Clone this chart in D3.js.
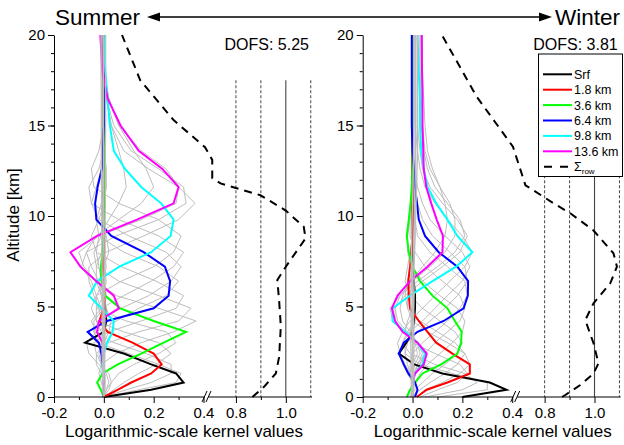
<!DOCTYPE html>
<html>
<head>
<meta charset="utf-8">
<script src="https://cdnjs.cloudflare.com/ajax/libs/d3/7.8.5/d3.min.js"></script>
<style>
  body { margin: 0; background: #fff; }
  text { font-family: "Liberation Sans", Arial, sans-serif; }
</style>
</head>
<body>
<main></main>
<script>
// altitude grid of the kernel rows [km]
var alts = [0, 0.4, 0.8, 1.3, 1.8, 2.4, 3.0, 3.6, 4.2, 4.9, 5.6, 6.4, 7.2, 8.0, 8.9, 9.8, 10.7, 11.6, 12.6, 13.6, 15.0, 16.5, 18.0, 20.0];

var layerNames  = ["Srf", "1.8 km", "3.6 km", "6.4 km", "9.8 km", "13.6 km"];
var layerColors = ["#000000", "#ff0000", "#00ff00", "#0000ff", "#00ffff", "#ff00ff"];

// summer kernels, highlighted rows
var summerSrf = [0, 0.19, 0.32, 0.29, 0.19, 0.08, -0.075, 0.0, 0.01, 0.005, 0, -0.005, -0.005, 0, 0, 0, 0, 0, 0, 0, 0, 0, 0, 0];
var summer18  = [0, 0.055, 0.11, 0.19, 0.232, 0.2, 0.115, 0.015, -0.018, 0.0, 0.005, -0.003, -0.003, 0, 0, 0, 0, 0, 0, 0, 0, 0, 0, 0];
var summer36  = [0, -0.012, -0.027, -0.005, 0.056, 0.15, 0.24, 0.33, 0.2, 0.066, 0.005, -0.01, -0.012, -0.005, 0, 0, 0, 0, 0, 0, 0, 0, 0, 0];
var summer64  = [0, 0, 0, 0, -0.005, -0.01, -0.02, -0.065, 0.012, 0.2, 0.26, 0.266, 0.245, 0.16, 0.03, -0.03, -0.035, -0.025, -0.008, -0.004, 0, 0, 0, 0];
var summer98  = [0, 0, 0, -0.005, -0.005, 0, 0.013, 0.035, 0.04, -0.01, -0.06, -0.027, 0.062, 0.19, 0.268, 0.28, 0.23, 0.15, 0.085, 0.04, 0.024, 0.015, 0.006, 0];
var summer136 = [0, 0, 0, 0, 0, 0, -0.005, -0.027, -0.02, 0.06, 0.04, -0.03, -0.094, -0.134, -0.027, 0.133, 0.28, 0.3, 0.235, 0.14, 0.067, 0.015, -0.006, -0.014];

// winter kernels, highlighted rows
var winterSrf = [0.2, 0.377, 0.31, 0.12, 0.007, -0.055, -0.025, 0, 0.005, 0.01, 0.01, 0.005, 0, 0, 0, 0, 0, 0, 0, 0, 0, 0, 0, 0];
var winter18  = [0.017, 0.057, 0.14, 0.23, 0.23, 0.16, 0.095, 0.06, 0.025, -0.01, -0.015, -0.017, -0.01, -0.005, 0, 0, 0, 0, 0, 0, 0, 0, 0, 0];
var winter36  = [-0.023, -0.01, 0.01, 0.04, 0.115, 0.18, 0.195, 0.197, 0.17, 0.14, 0.08, 0.03, 0.0, -0.015, -0.023, -0.015, -0.008, -0.003, 0, 0, 0, 0, 0, 0];
var winter64  = [0.01, 0.02, 0.01, -0.017, -0.035, -0.055, -0.035, 0.02, 0.125, 0.205, 0.222, 0.223, 0.18, 0.105, 0.05, 0.025, 0.018, 0.01, 0.005, 0, -0.003, -0.003, -0.003, -0.003];
var winter98  = [0, 0, 0, 0.01, 0.04, 0.05, 0.02, -0.03, -0.08, -0.08, -0.01, 0.08, 0.175, 0.24, 0.18, 0.14, 0.095, 0.06, 0.045, 0.035, 0.03, 0.03, 0.025, 0.02];
var winter136 = [0, 0, 0, 0.01, 0.045, 0.057, 0.02, -0.04, -0.07, -0.083, -0.06, -0.01, 0.06, 0.12, 0.122, 0.097, 0.075, 0.055, 0.045, 0.043, 0.04, 0.04, 0.038, 0.037];

// the other rows, grey
var summerGray = [
  [0, 0.14, 0.29, 0.31, 0.22, 0.1, -0.03, -0.06, -0.01, 0.01, 0, 0, 0, 0, 0, 0, 0, 0, 0, 0, 0, 0, 0, 0],
  [0, 0.09, 0.19, 0.27, 0.27, 0.17, 0.04, -0.04, -0.04, 0.0, 0.01, 0, 0, 0, 0, 0, 0, 0, 0, 0, 0, 0, 0, 0],
  [0, 0.04, 0.08, 0.14, 0.21, 0.27, 0.22, 0.08, -0.03, -0.03, 0, 0.01, 0, 0, 0, 0, 0, 0, 0, 0, 0, 0, 0, 0],
  [0, 0.01, 0.03, 0.06, 0.12, 0.22, 0.29, 0.25, 0.09, -0.03, -0.03, 0, 0.01, 0, 0, 0, 0, 0, 0, 0, 0, 0, 0, 0],
  [0, 0, -0.01, -0.02, -0.01, 0.05, 0.15, 0.28, 0.37, 0.22, 0.05, -0.03, -0.03, -0.01, 0, 0, 0, 0, 0, 0, 0, 0, 0, 0],
  [0, 0, 0, -0.01, -0.03, -0.03, 0.02, 0.14, 0.3, 0.35, 0.22, 0.06, -0.03, -0.04, -0.01, 0, 0, 0, 0, 0, 0, 0, 0, 0],
  [0, 0, 0, 0, -0.01, -0.03, -0.04, 0.02, 0.15, 0.29, 0.32, 0.21, 0.07, -0.03, -0.05, -0.02, 0, 0, 0, 0, 0, 0, 0, 0],
  [0, 0.02, 0.03, 0.02, -0.02, -0.06, -0.07, -0.03, 0.05, 0.14, 0.25, 0.3, 0.22, 0.08, -0.02, -0.03, -0.01, 0, 0, 0, 0, 0, 0, 0],
  [0, 0, 0, 0, 0, -0.01, -0.02, -0.04, -0.02, 0.07, 0.18, 0.27, 0.31, 0.25, 0.1, -0.02, -0.05, -0.03, -0.01, 0, 0, 0, 0, 0],
  [0, 0, 0, 0, 0, 0, -0.01, -0.03, -0.05, -0.01, 0.08, 0.19, 0.28, 0.32, 0.22, 0.06, -0.05, -0.06, -0.02, 0, 0, 0, 0, 0],
  [0, 0, 0, 0, 0, 0, 0, -0.01, -0.03, -0.05, -0.03, 0.07, 0.2, 0.28, 0.31, 0.22, 0.06, -0.04, -0.05, -0.02, 0, 0, 0, 0],
  [0, 0, 0, 0, 0, 0, 0, 0, -0.01, -0.02, -0.04, -0.06, -0.06, 0.01, 0.16, 0.3, 0.366, 0.3, 0.18, 0.08, 0.03, 0.01, 0, 0],
  [0, 0, 0, 0, 0, 0, 0, 0, 0, -0.01, -0.03, -0.05, -0.09, -0.07, 0.05, 0.22, 0.33, 0.32, 0.22, 0.11, 0.04, 0.01, 0, 0],
  [0, 0, 0, 0, 0, 0, 0, 0, 0, 0, -0.01, -0.03, -0.08, -0.1, -0.02, 0.15, 0.29, 0.3, 0.25, 0.15, 0.06, 0.02, 0, -0.01],
  [0, 0, 0, 0, 0, 0, 0, 0, 0, 0, 0, -0.02, -0.05, -0.07, -0.03, 0.06, 0.15, 0.2, 0.17, 0.12, 0.06, 0.02, 0, -0.01],
  [0, 0, 0, 0, 0, 0, 0, 0, 0, 0, 0, -0.01, -0.02, -0.03, -0.02, 0.02, 0.06, 0.09, 0.08, 0.06, 0.03, 0.01, 0, -0.01],
  [0, 0.01, 0.02, 0.01, -0.01, -0.02, 0.0, 0.02, 0.03, 0.01, -0.01, -0.02, 0, 0.02, 0.01, -0.01, 0, 0.01, 0.01, 0, 0, 0.005, 0.005, 0.005]
];
// grey rows that stay close to zero and form the band along x = 0
var summerBand = [
  [0, -0.004, -0.006, -0.005, -0.006, -0.007, -0.006, -0.005, -0.006, -0.007, -0.006, -0.006, -0.007, -0.008, -0.008, -0.008, -0.009, -0.009, -0.01, -0.01, -0.01, -0.01, -0.011, -0.011],
  [0, 0.004, 0.005, 0.004, 0.003, 0.004, 0.005, 0.004, 0.004, 0.005, 0.004, 0.004, 0.004, 0.005, 0.005, 0.005, 0.006, 0.006, 0.006, 0.006, 0.007, 0.007, 0.007, 0.007],
  [0, 0.001, 0.0, -0.002, -0.001, 0.0, -0.002, -0.001, 0.0, -0.001, -0.002, 0.0, 0.001, 0.0, -0.001, -0.002, -0.002, -0.002, -0.002, -0.002, -0.002, -0.002, -0.002, -0.002]
];

var winterGray = [
  [0.1, 0.3, 0.3, 0.16, 0.03, -0.03, -0.03, 0, 0.01, 0.01, 0, 0, 0, 0, 0, 0, 0, 0, 0, 0, 0, 0, 0, 0],
  [0.05, 0.2, 0.26, 0.21, 0.09, -0.01, -0.04, -0.02, 0.01, 0.01, 0, 0, 0, 0, 0, 0, 0, 0, 0, 0, 0, 0, 0, 0],
  [0.03, 0.1, 0.18, 0.22, 0.19, 0.09, 0.0, -0.03, -0.02, 0, 0, 0, 0, 0, 0, 0, 0, 0, 0, 0, 0, 0, 0, 0],
  [0.02, 0.05, 0.12, 0.19, 0.23, 0.21, 0.14, 0.06, 0.0, -0.02, -0.02, -0.01, 0, 0, 0, 0, 0, 0, 0, 0, 0, 0, 0, 0],
  [0, 0.03, 0.07, 0.13, 0.18, 0.21, 0.17, 0.1, 0.03, -0.02, -0.03, -0.02, -0.01, 0, 0, 0, 0, 0, 0, 0, 0, 0, 0, 0],
  [-0.01, 0.01, 0.04, 0.08, 0.13, 0.18, 0.2, 0.17, 0.11, 0.04, -0.01, -0.03, -0.02, -0.01, 0, 0, 0, 0, 0, 0, 0, 0, 0, 0],
  [-0.02, -0.01, 0.01, 0.03, 0.06, 0.11, 0.16, 0.2, 0.21, 0.18, 0.11, 0.04, 0.0, -0.02, -0.02, -0.01, 0, 0, 0, 0, 0, 0, 0, 0],
  [-0.01, -0.01, 0, 0.01, 0.02, 0.05, 0.09, 0.14, 0.19, 0.21, 0.19, 0.12, 0.05, 0.01, -0.01, -0.01, 0, 0, 0, 0, 0, 0, 0, 0],
  [0, 0, 0, -0.01, -0.01, 0.0, 0.04, 0.09, 0.14, 0.19, 0.22, 0.21, 0.14, 0.07, 0.02, 0.01, 0, 0, 0, 0, 0, 0, 0, 0],
  [0, 0, 0, -0.01, -0.02, -0.03, -0.02, 0.02, 0.07, 0.13, 0.18, 0.22, 0.21, 0.15, 0.08, 0.04, 0.02, 0.01, 0, 0, 0, 0, 0, 0],
  [0, 0, 0, -0.02, -0.04, -0.05, -0.04, -0.01, 0.04, 0.09, 0.14, 0.2, 0.23, 0.2, 0.13, 0.07, 0.04, 0.02, 0.01, 0, 0, 0, 0, 0],
  [0, 0, 0, -0.01, -0.03, -0.05, -0.06, -0.04, -0.01, 0.04, 0.09, 0.15, 0.21, 0.24, 0.2, 0.14, 0.09, 0.05, 0.03, 0.02, 0.01, 0.01, 0.01, 0.01],
  [0, 0, 0, 0.01, 0.03, 0.05, 0.02, -0.04, -0.07, -0.07, -0.03, 0.04, 0.12, 0.19, 0.22, 0.18, 0.12, 0.07, 0.04, 0.03, 0.02, 0.02, 0.02, 0.02],
  [0, 0, 0, 0.01, 0.03, 0.05, 0.02, -0.03, -0.08, -0.09, -0.05, 0.02, 0.1, 0.17, 0.21, 0.19, 0.14, 0.09, 0.06, 0.045, 0.035, 0.03, 0.03, 0.03],
  [0, 0, 0, 0.005, 0.02, 0.04, 0.02, -0.02, -0.06, -0.07, -0.05, 0, 0.07, 0.13, 0.17, 0.17, 0.15, 0.11, 0.07, 0.05, 0.04, 0.035, 0.03, 0.03],
  [0, 0, 0, 0, 0.01, 0.03, 0.02, -0.01, -0.04, -0.05, -0.04, -0.01, 0.04, 0.09, 0.13, 0.14, 0.13, 0.11, 0.08, 0.06, 0.05, 0.045, 0.04, 0.04],
  [0, 0.02, 0.01, -0.01, 0.0, 0.02, 0.01, -0.01, 0, 0.01, 0.0, -0.005, 0.0, 0.005, 0.01, 0.01, 0.01, 0.01, 0.01, 0.01, 0.01, 0.01, 0.01, 0.01]
];
var winterBand = [
  [0, -0.004, -0.005, -0.006, -0.005, -0.006, -0.007, -0.006, -0.005, -0.006, -0.007, -0.006, -0.005, -0.004, -0.003, -0.002, 0.0, 0.002, 0.003, 0.004, 0.005, 0.005, 0.005, 0.005],
  [0, 0.005, 0.006, 0.005, 0.004, 0.005, 0.006, 0.005, 0.004, 0.005, 0.006, 0.006, 0.006, 0.008, 0.01, 0.012, 0.014, 0.016, 0.018, 0.02, 0.02, 0.02, 0.02, 0.02],
  [0, 0.0, 0.001, 0.0, -0.001, 0.0, 0.001, 0.0, -0.001, 0.0, 0.001, 0.0, 0.001, 0.003, 0.005, 0.007, 0.008, 0.01, 0.011, 0.012, 0.013, 0.013, 0.013, 0.013]
];

// row sums (dashed)
var summerSumAlt = [0, 0.57, 1.3, 2.2, 3.9, 5.36, 6.46, 7.2, 7.85, 8.76, 9.4, 10.3, 11.15, 11.8, 12.1, 13.1, 13.8, 15.3, 17.5, 20];
var summerSum    = [0.866, 0.913, 0.96, 0.973, 0.98, 0.973, 0.966, 1.0, 1.033, 1.079, 1.072, 1.0, 0.898, 0.738, 0.705, 0.705, 0.406, 0.28, 0.146, 0.073];
var winterSumAlt = [0, 0.11, 0.66, 1.3, 1.86, 2.97, 4.25, 5.18, 6.28, 7.2, 7.94, 9.2, 10.15, 10.7, 11.7, 13.83, 16.6, 20];
var winterSum    = [0.87, 0.883, 0.943, 0.996, 1.016, 0.996, 0.963, 0.996, 1.063, 1.09, 1.076, 0.996, 0.903, 0.836, 0.723, 0.403, 0.257, 0.118];

var dofsLabels = ["DOFS: 5.25", "DOFS: 3.81"];
var xTicks  = [-0.2, 0, 0.2, 0.4, 0.8, 1.0];
var xMinor  = [-0.1, 0.1, 0.3, 0.9];
var yTicks  = [0, 5, 10, 15, 20];
var yMinor  = d3.range(0, 21, 1);
var refLines = [0.8, 0.9, 1.0, 1.1];

var svg = d3.select("main")
  .append("svg")
    .attr("width", 624)
    .attr("height", 445);

var y = d3.scaleLinear().domain([0, 20]).range([397, 35]);

function drawPanel(x0, kernels, gray, band, sumAlt, sumVals, dofs) {
  // broken x axis: -0.2..0.41 then 0.69..1.105
  var x = d3.scaleLinear()
    .domain([-0.2, 0.41, 0.69, 1.105])
    .range([x0, x0 + 152, x0 + 154.5, x0 + 258]);
  var g = svg.append("g");

  var line = d3.line()
    .x(function(d) { return x(d[0]); })
    .y(function(d) { return y(d[1]); });

  // reference lines at 0.8, 0.9, 1.0, 1.1
  refLines.forEach(function(v) {
    g.append("line")
      .attr("x1", x(v)).attr("x2", x(v))
      .attr("y1", y(17.5)).attr("y2", y(0))
      .attr("stroke", "#444")
      .attr("stroke-width", v === 1.0 ? 1.1 : 1)
      .attr("stroke-dasharray", v === 1.0 ? null : "3,2");
  });

  gray.forEach(function(row) {
    g.append("path")
      .attr("d", line(d3.zip(row, alts)))
      .attr("fill", "none")
      .attr("stroke", "#bdbdbd")
      .attr("stroke-width", 1);
  });

  kernels.forEach(function(row, i) {
    g.append("path")
      .attr("d", line(d3.zip(row, alts)))
      .attr("fill", "none")
      .attr("stroke", layerColors[i])
      .attr("stroke-width", 2);
  });

  // near-zero grey rows on top, they bury the flat parts of the coloured rows
  band.forEach(function(row) {
    g.append("path")
      .attr("d", line(d3.zip(row, alts)))
      .attr("fill", "none")
      .attr("stroke", "#bdbdbd")
      .attr("stroke-width", 1.4);
  });

  g.append("path")
    .attr("d", line(d3.zip(sumVals, sumAlt)))
    .attr("fill", "none")
    .attr("stroke", "#000")
    .attr("stroke-width", 2)
    .attr("stroke-dasharray", "8,6");

  // y axis
  g.append("g")
    .attr("transform", "translate(" + x0 + ",0)")
    .call(d3.axisLeft(y).tickValues(yMinor).tickSize(3).tickFormat(""))
    .call(function(a) { a.select(".domain").remove(); });
  var ya = g.append("g")
    .attr("transform", "translate(" + x0 + ",0)")
    .call(d3.axisLeft(y).tickValues(yTicks).tickSize(6).tickPadding(3).tickSizeOuter(0));
  ya.selectAll("text").attr("font-size", 15).attr("font-family", "Liberation Sans, Arial, sans-serif");
  ya.selectAll("line, path").attr("stroke", "#000");

  // x axis
  var xa = g.append("g")
    .attr("transform", "translate(0,397)")
    .call(d3.axisBottom(x).tickValues(xTicks).tickSize(6).tickPadding(4)
      .tickFormat(function(d) { return d.toFixed(1); }));
  xa.select(".domain").remove();
  xa.selectAll("text").attr("font-size", 15).attr("font-family", "Liberation Sans, Arial, sans-serif");
  g.append("g")
    .attr("transform", "translate(0,397)")
    .call(d3.axisBottom(x).tickValues(xMinor).tickSize(3).tickFormat(""))
    .select(".domain").remove();

  var b1 = x0 + 150.5, b2 = x0 + 154.5;
  g.append("line").attr("x1", x0).attr("x2", b1).attr("y1", 397).attr("y2", 397).attr("stroke", "#000");
  g.append("line").attr("x1", b2).attr("x2", x(1.105)).attr("y1", 397).attr("y2", 397).attr("stroke", "#000");
  [b1, b2].forEach(function(b) {
    g.append("line")
      .attr("x1", b - 2.5).attr("y1", 402)
      .attr("x2", b + 2.5).attr("y2", 391)
      .attr("stroke", "#000");
  });

  g.append("text")
    .attr("x", x(1.105) - 3)
    .attr("y", 50)
    .attr("text-anchor", "end")
    .attr("font-size", 16)
    .text(dofs);

  g.append("text")
    .attr("x", (x0 + x(1.105)) / 2 + 1)
    .attr("y", 437)
    .attr("text-anchor", "middle")
    .attr("font-size", 17)
    .text("Logarithmic-scale kernel values");
}

drawPanel(54, [summerSrf, summer18, summer36, summer64, summer98, summer136], summerGray, summerBand, summerSumAlt, summerSum, dofsLabels[0]);
drawPanel(362.7, [winterSrf, winter18, winter36, winter64, winter98, winter136], winterGray, winterBand, winterSumAlt, winterSum, dofsLabels[1]);

svg.append("text")
  .attr("transform", "translate(19,215) rotate(-90)")
  .attr("text-anchor", "middle")
  .attr("font-size", 17)
  .text("Altitude [km]");

// title with arrow
svg.append("text").attr("x", 55).attr("y", 25).attr("font-size", 22.5).text("Summer");
svg.append("text").attr("x", 555).attr("y", 25).attr("font-size", 22.5).text("Winter");
svg.append("line")
  .attr("x1", 155).attr("x2", 545).attr("y1", 17).attr("y2", 17)
  .attr("stroke", "#000").attr("stroke-width", 1.3);
svg.append("path").attr("d", "M147,17 L160,12.5 L160,21.5 Z").attr("fill", "#000");
svg.append("path").attr("d", "M552,17 L539,12.5 L539,21.5 Z").attr("fill", "#000");

// legend
var leg = svg.append("g");
leg.append("rect")
  .attr("x", 538.5).attr("y", 54).attr("width", 84).attr("height", 122.5)
  .attr("fill", "#fff").attr("stroke", "#000").attr("stroke-width", 1);
layerNames.forEach(function(name, i) {
  var ly = 74.3 + i * 15.4;
  leg.append("line")
    .attr("x1", 543).attr("x2", 572).attr("y1", ly).attr("y2", ly)
    .attr("stroke", layerColors[i]).attr("stroke-width", 2);
  leg.append("text")
    .attr("x", 574).attr("y", ly + 4.5)
    .attr("font-size", 12.5)
    .text(name);
});
var sy = 74.3 + 6 * 15.4;
leg.append("line")
  .attr("x1", 544).attr("x2", 572).attr("y1", sy).attr("y2", sy)
  .attr("stroke", "#000").attr("stroke-width", 2).attr("stroke-dasharray", "8,8");
var st = leg.append("text").attr("x", 574).attr("y", sy + 4.5).attr("font-size", 12.5);
st.append("tspan").text("\u03a3");
st.append("tspan").attr("font-size", 8).attr("dy", 3).text("row");
</script>
</body>
</html>
